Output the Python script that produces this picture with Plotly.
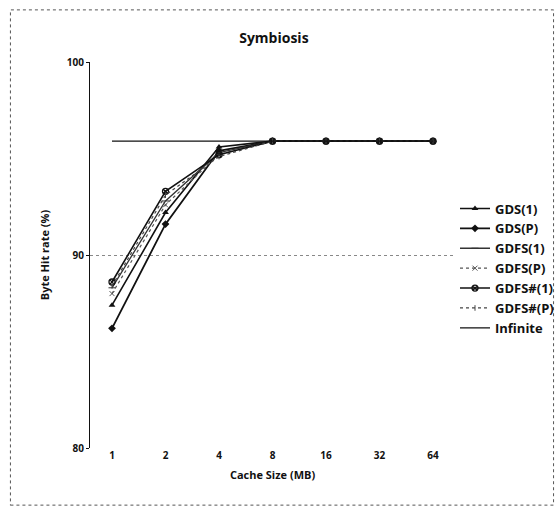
import plotly.graph_objects as go

categories = ["1", "2", "4", "8", "16", "32", "64"]
gds_1 = [87.4, 92.2, 95.6, 95.9, 95.9, 95.9, 95.9]
gds_p = [86.2, 91.6, 95.4, 95.9, 95.9, 95.9, 95.9]
gdfs_1 = [88.3, 92.8, 95.3, 95.9, 95.9, 95.9, 95.9]
gdfs_p = [88.0, 92.6, 95.2, 95.9, 95.9, 95.9, 95.9]
gdfs_s1 = [88.6, 93.3, 95.2, 95.9, 95.9, 95.9, 95.9]
gdfs_sp = [88.4, 93.1, 95.1, 95.9, 95.9, 95.9, 95.9]
infinite = [95.9, 95.9, 95.9, 95.9, 95.9, 95.9, 95.9]

series = [
    ("GDS(1)", gds_1, dict(symbol="triangle-up", size=6, color="#111"), dict(color="#111", width=1.6)),
    ("GDS(P)", gds_p, dict(symbol="diamond", size=6, color="#111"), dict(color="#111", width=1.8)),
    ("GDFS(1)", gdfs_1, dict(symbol="line-ew-open", size=5, color="#333", line=dict(width=1)), dict(color="#333", width=1.3)),
    ("GDFS(P)", gdfs_p, dict(symbol="x-thin-open", size=5, color="#555", line=dict(width=1)), dict(color="#555", width=1.2, dash="dot")),
    ("GDFS#(1)", gdfs_s1, dict(symbol="circle-x-open", size=6, color="#111", line=dict(width=1.3)), dict(color="#111", width=1.6)),
    ("GDFS#(P)", gdfs_sp, dict(symbol="line-ns-open", size=4, color="#444", line=dict(width=1)), dict(color="#444", width=1.2, dash="dot")),
    ("Infinite", infinite, None, dict(color="#111", width=1.4)),
]

fig = go.Figure()
for name, vals, mk, ln in series:
    label = "<b>" + name + "</b>"
    if mk is None:
        fig.add_trace(go.Scatter(x=categories, y=vals, name=label, mode="lines", line=ln))
    else:
        fig.add_trace(go.Scatter(x=categories, y=vals, name=label, mode="lines+markers", line=ln, marker=mk))

font = "Open Sans"
fig.update_layout(
    width=559, height=510,
    margin=dict(l=90, r=104, t=62, b=62, autoexpand=False),
    paper_bgcolor="white", plot_bgcolor="white",
    title=dict(text="<b>Symbiosis</b>", x=0.49, xanchor="center", y=0.925, yanchor="middle",
               font=dict(family=font, size=14, color="#111")),
    font=dict(family=font, color="#111"),
    showlegend=True,
    legend=dict(x=1.0, xanchor="left", y=0.465, yanchor="middle", bgcolor="rgba(0,0,0,0)",
                font=dict(family=font, size=13, color="#111"), itemwidth=30, tracegroupgap=0),
    xaxis=dict(type="category", showgrid=False, zeroline=False, showline=False,
               tickfont=dict(family=font, size=10, color="#111"), ticks="",
               title=dict(text="<b>Cache Size (MB)</b>", font=dict(family=font, size=11, color="#111"), standoff=10)),
    yaxis=dict(range=[80, 100], dtick=10, showgrid=True, gridcolor="#888", griddash="dot", gridwidth=1,
               zeroline=False, showline=True, linecolor="#111", linewidth=1.2,
               ticks="outside", ticklen=3, tickcolor="#111",
               tickfont=dict(family=font, size=10, color="#111"),
               title=dict(text="<b>Byte Hit rate (%)</b>", font=dict(family=font, size=11, color="#111"), standoff=14)),
)
fig.update_xaxes(tickprefix="<b>", ticksuffix="</b>")
fig.update_yaxes(tickprefix="<b>", ticksuffix="</b>")

# outer chart border
fig.add_shape(type="rect", xref="paper", yref="paper", x0=-0.218, x1=1.27, y0=-0.148, y1=1.135,
              line=dict(color="#555", width=1, dash="dot"), layer="below")

fig.write_html("out.html")
